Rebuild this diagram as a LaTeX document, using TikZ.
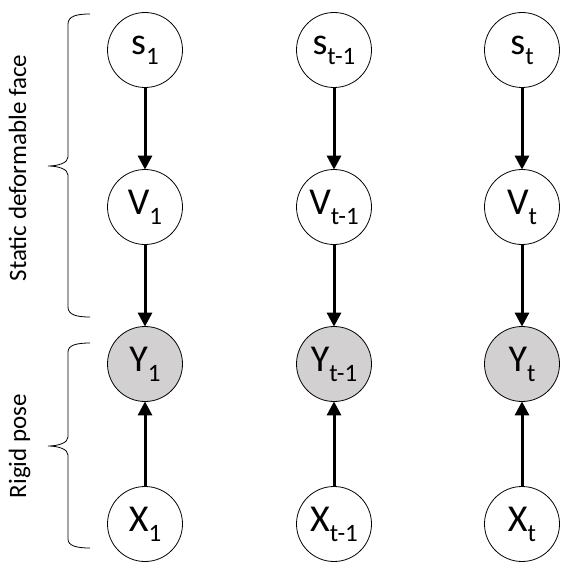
\documentclass[tikz,border=0pt]{standalone}
\usepackage{fontspec}
\setmainfont{Carlito}
\usetikzlibrary{arrows.meta}
\definecolor{obsfill}{RGB}{210,208,208}
\newcommand{\nlab}[2]{{\fontsize{38}{38}\selectfont #1\raisebox{-10pt}{\fontsize{25}{25}\selectfont #2}}}
\tikzset{
  var/.style={circle, draw=black, line width=0.8pt, fill=white, minimum size=75pt, inner sep=0pt},
  obs/.style={var, fill=obsfill},
  edge/.style={line width=3pt, -{Triangle[length=14pt,width=14pt]}, shorten >=-0.5pt},
  bracepath/.style={draw=black, line width=0.8pt},
  sidelab/.style={rotate=90, anchor=base, inner sep=0pt, font=\fontsize{25}{25}\selectfont}
}
\begin{document}
\begin{tikzpicture}[x=1pt,y=-1pt]
\useasboundingbox (0,0) rectangle (580,575);
% column 1
\node[var] (s1) at (145,50) {\nlab{s}{1}};
\node[var] (v1) at (145,207) {\nlab{V}{1}};
\node[obs] (y1) at (145,364) {\nlab{Y}{1}};
\node[var] (x1) at (145,524) {\nlab{X}{1}};
% column 2
\node[var] (s2) at (334,50) {\nlab{s}{t-1}};
\node[var] (v2) at (334,207) {\nlab{V}{t-1}};
\node[obs] (y2) at (334,364) {\nlab{Y}{t-1}};
\node[var] (x2) at (334,524) {\nlab{X}{t-1}};
% column 3
\node[var] (s3) at (522,50) {\nlab{s}{t}};
\node[var] (v3) at (522,207) {\nlab{V}{t}};
\node[obs] (y3) at (522,364) {\nlab{Y}{t}};
\node[var] (x3) at (522,524) {\nlab{X}{t}};
% edges
\foreach \i in {1,2,3}{
  \draw[edge] (s\i) -- (v\i);
  \draw[edge] (v\i) -- (y\i);
  \draw[edge] (x\i) -- (y\i);
}
% braces
\draw[bracepath] (90,14) .. controls (77,14) and (68,16) .. (68,24) -- (68,157)
  .. controls (68,163) and (58,166) .. (48,166)
  .. controls (58,166) and (68,169) .. (68,175) -- (68,307)
  .. controls (68,315) and (77,317) .. (90,317);
\draw[bracepath] (90,343) .. controls (77,343) and (68,345) .. (68,352) -- (68,437)
  .. controls (68,443) and (58,446) .. (48,446)
  .. controls (58,446) and (68,449) .. (68,455) -- (68,539)
  .. controls (68,546) and (77,548) .. (90,548);
\node[sidelab] (lab1) at (26,168) {Static deformable face};
\node[sidelab] (lab2) at (26,446) {Rigid pose};
\end{tikzpicture}
\end{document}
